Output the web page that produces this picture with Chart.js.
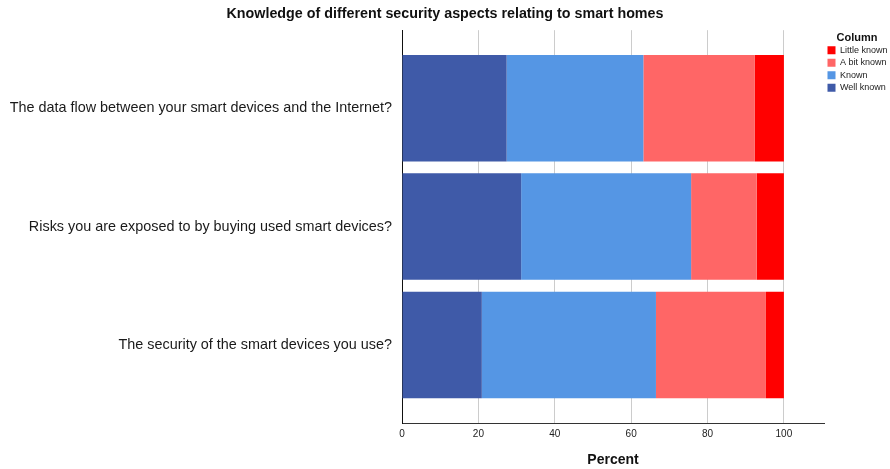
<!DOCTYPE html>
<html>
<head>
<meta charset="utf-8">
<script src="https://cdn.jsdelivr.net/npm/chart.js@4/dist/chart.umd.min.js"></script>
<style>
  html, body { margin: 0; padding: 0; background: #fff; }
  #wrap { width: 890px; height: 469px; }
</style>
</head>
<body>
<div id="wrap"><canvas id="c" width="890" height="469"></canvas></div>
<script>
// Survey questions (top to bottom)
const questions = [
  'The data flow between your smart devices and the Internet?',
  'Risks you are exposed to by buying used smart devices?',
  'The security of the smart devices you use?'
];

// Share of respondents per answer, in percent
const wellKnown   = [27.4, 31.2, 20.9];
const known       = [35.8, 44.5, 45.6];
const aBitKnown   = [29.2, 17.2, 28.8];
const littleKnown = [7.6, 7.1, 4.7];

const xTicks = [0, 20, 40, 60, 80, 100];

const series = [
  { label: 'Well known',   values: wellKnown,   color: '#3f5aa8' },
  { label: 'Known',        values: known,       color: '#5596e4' },
  { label: 'A bit known',  values: aBitKnown,   color: '#ff6666' },
  { label: 'Little known', values: littleKnown, color: '#ff0000' }
];

const font = 'Liberation Sans, Arial, sans-serif';

new Chart(document.getElementById('c'), {
  type: 'bar',
  data: {
    datasets: series.map(s => ({
      label: s.label,
      data: s.values.map((v, i) => ({ x: v, y: i })),
      backgroundColor: s.color,
      borderWidth: 0,
      barPercentage: 0.9,
      categoryPercentage: 1
    }))
  },
  options: {
    indexAxis: 'y',
    responsive: false,
    animation: false,
    layout: { padding: { top: 0, right: 0, bottom: 0, left: 0 } },
    scales: {
      x: {
        type: 'linear',
        stacked: true,
        min: 0,
        max: 110.5,
        afterBuildTicks: s => { s.ticks = xTicks.map(v => ({ value: v })); },
        afterFit: s => { s.height = 46; },
        grid: { color: '#cccccc', lineWidth: 1, drawTicks: false },
        border: { display: true, color: '#333333', width: 1 },
        ticks: { padding: 5, color: '#222', font: { family: font, size: 10 } },
        title: {
          display: true, text: 'Percent', color: '#111',
          font: { family: font, size: 14, weight: 'bold' },
          padding: { top: 10, bottom: 0 }
        }
      },
      y: {
        type: 'linear',
        stacked: true,
        reverse: true,
        offset: false,
        min: -0.66,
        max: 2.66,
        afterBuildTicks: s => { s.ticks = questions.map((q, i) => ({ value: i })); },
        afterFit: s => { s.width = 402; },
        grid: { display: false, drawTicks: false },
        border: { display: true, color: '#111', width: 1 },
        ticks: {
          padding: 10, color: '#1a1a1a',
          font: { family: font, size: 14.4 },
          callback: v => questions[v]
        }
      }
    },
    plugins: {
      title: {
        display: true,
        text: 'Knowledge of different security aspects relating to smart homes',
        color: '#111',
        font: { family: font, size: 14.3, weight: 'bold' },
        padding: { top: 5, bottom: 8 }
      },
      legend: {
        position: 'right',
        align: 'start',
        fullSize: false,
        maxWidth: 66,
        reverse: true,
        title: {
          display: true, text: 'Column', color: '#111',
          font: { family: font, size: 11, weight: 'bold' },
          padding: { top: 2, bottom: -3 }
        },
        labels: {
          boxWidth: 8, boxHeight: 8, padding: 3.5, color: '#222',
          font: { family: font, size: 9 }
        }
      },
      tooltip: { enabled: false }
    }
  }
});
</script>
</body>
</html>
